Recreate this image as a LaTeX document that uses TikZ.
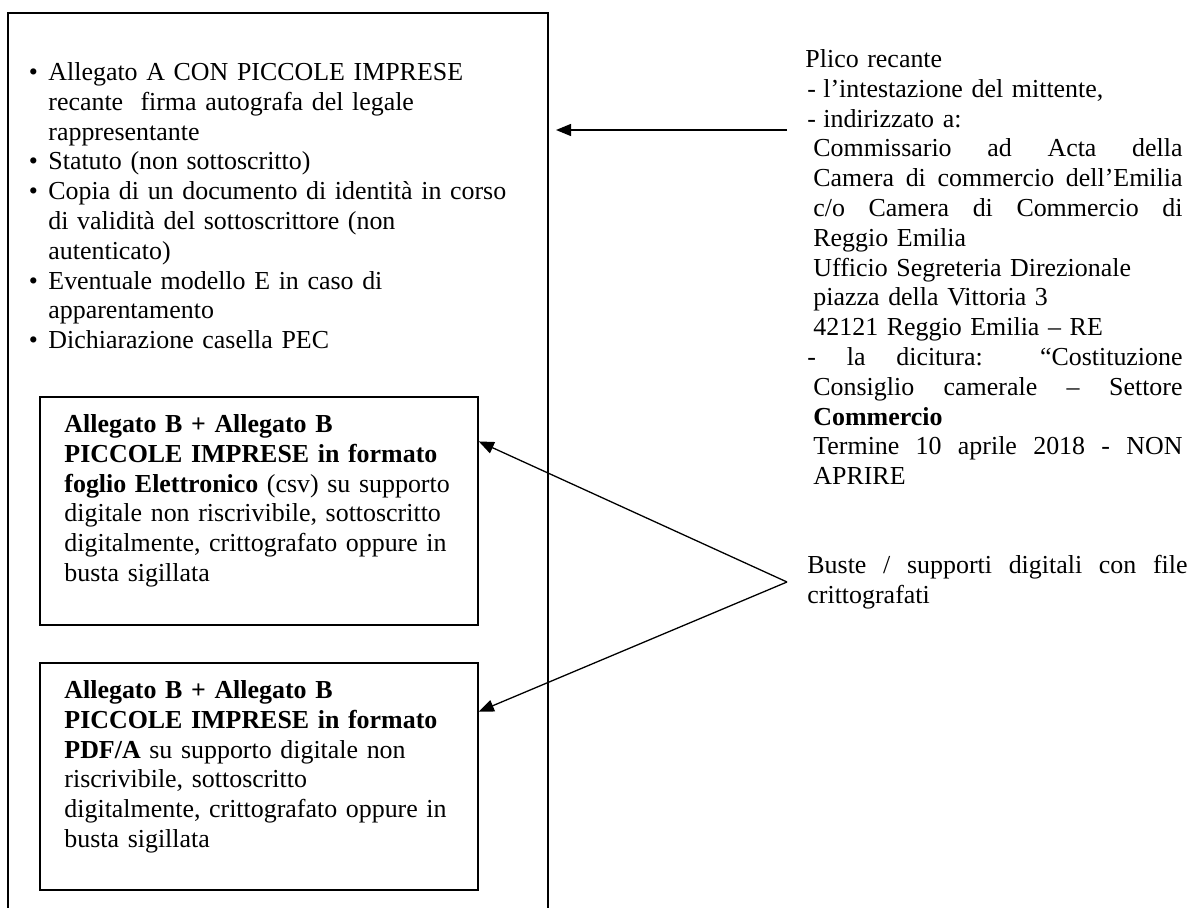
\documentclass[tikz,border=0pt]{standalone}
\usepackage{fontspec}
\setmainfont{Liberation Serif}
\usetikzlibrary{arrows.meta,calc}
\newlength\rw \setlength\rw{174.6pt}
\newcommand\rbul{\leavevmode\llap{\textbullet\hspace{4.9pt}}}
\newcommand\rdash[1]{\leavevmode\makebox[8.3pt][l]{\hspace*{0.9pt}-}#1}
\newcommand\rfill[2]{\makebox[#1][s]{\spaceskip=0pt\xspaceskip=0pt\relax #2}}
\newcommand\rjust[1]{\leavevmode\hspace*{3.7pt}\rfill{\dimexpr\rw-3.7pt\relax}{#1}}
\newcommand\rind[1]{\leavevmode\hspace*{3.7pt}#1}
\begin{document}
\begin{tikzpicture}[x=0.463pt,y=-0.463pt,
  txt/.style={inner sep=0pt, anchor=north west, align=left, text width=240pt,
    font=\fontsize{12}{13.8}\selectfont},
  frame/.style={draw, line width=0.9pt},
  boxx/.style={draw, line width=0.7pt, inner sep=0pt, minimum width=202.8pt},
  arr/.style={line width=0.6pt, -{Triangle[length=7pt,width=5.6pt]}}]
\useasboundingbox (0,0) rectangle (1191,908);
% outer frame (open at bottom)
\draw[frame] (8,912) -- (8,13) -- (548,13) -- (548,912);
% inner boxes
\node[boxx, minimum height=105.6pt] (box1) at (259,511) {};
\node[boxx, minimum height=105.1pt] (box2) at (259,776.5) {};
% bullet list
\node[txt] (list) at (48,62) {%
\rbul Allegato A CON PICCOLE IMPRESE\\
recante\ \ firma autografa del legale\\
rappresentante\\
\rbul Statuto (non sottoscritto)\\
\rbul Copia di un documento di identità in corso\\
di validità del sottoscrittore (non\\
autenticato)\\
\rbul Eventuale modello E in caso di\\
apparentamento\\
\rbul Dichiarazione casella PEC};
% box texts
\node[txt] (t1) at (64,414) {%
\textbf{Allegato B + Allegato B}\\
\textbf{PICCOLE IMPRESE in formato}\\
\textbf{foglio Elettronico} (csv) su supporto\\
digitale non riscrivibile, sottoscritto\\
digitalmente, crittografato oppure in\\
busta sigillata};
\node[txt] (t2) at (64,680) {%
\textbf{Allegato B + Allegato B}\\
\textbf{PICCOLE IMPRESE in formato}\\
\textbf{PDF/A} su supporto digitale non\\
riscrivibile, sottoscritto\\
digitalmente, crittografato oppure in\\
busta sigillata};
% right texts
\node[txt, text width=\rw] (plico) at (805,49) {%
Plico recante\\
\rdash{l’intestazione del mittente,}\\
\rdash{indirizzato a:}\\
\rjust{Commissario ad Acta della}\\
\rjust{Camera di commercio dell’Emilia}\\
\rjust{c/o Camera di Commercio di}\\
\rind{Reggio Emilia}\\
\rind{Ufficio Segreteria Direzionale}\\
\rind{piazza della Vittoria 3}\\
\rind{42121 Reggio Emilia – RE}\\
\leavevmode\rfill{\rw}{\hspace*{0.9pt}- la dicitura: “Costituzione}\\
\rjust{Consiglio camerale – Settore}\\
\rind{\textbf{Commercio}}\\
\rjust{Termine 10 aprile 2018 - NON}\\
\rind{APRIRE}};
\node[txt, text width=176pt] (buste) at (807,555) {%
\leavevmode\rfill{176pt}{Buste / supporti digitali con file}\\
crittografati};
% connectors
\coordinate (a1s) at (787,130);
\coordinate (a1e) at (556,130);
\coordinate (v) at (787,582);
\draw[arr] (a1s) -- (a1e);
\draw[arr] (v) -- ($(box1.north east)!0.197!(box1.south east)$);
\draw[arr] (v) -- ($(box2.north east)!0.216!(box2.south east)$);
\end{tikzpicture}
\end{document}
